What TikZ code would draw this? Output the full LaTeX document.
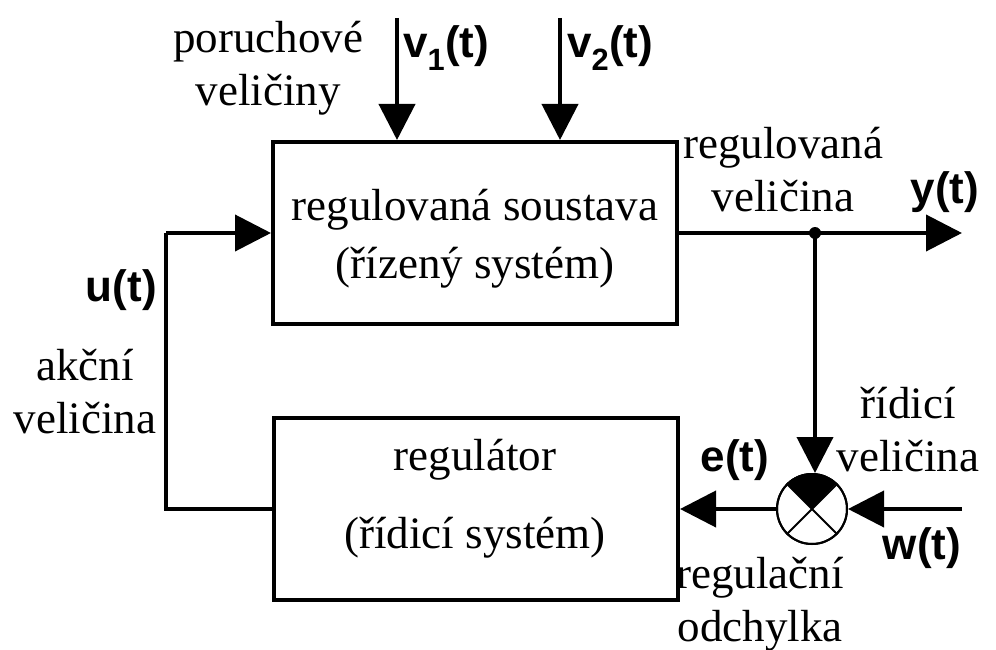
\documentclass[tikz,border=0pt]{standalone}
\usepackage{fontspec}
\setmainfont{Liberation Serif}
\newfontfamily\lbsans{Liberation Sans}
\usetikzlibrary{arrows.meta}
\begin{document}
\begin{tikzpicture}[x=1pt,y=-1pt,
  blk/.style={draw,line width=4pt,minimum width=404pt,minimum height=182pt,inner sep=0pt},
  ser/.style={font=\fontsize{45}{53}\selectfont,align=center,inner sep=0pt},
  lab/.style={font=\lbsans\bfseries\fontsize{44}{50}\selectfont,inner sep=0pt},
  wire/.style={line width=4pt},
  arr/.style={line width=4pt,-{Triangle[length=36pt,width=36pt]}}]
\useasboundingbox (0,0) rectangle (996,650);
\node[blk] (plant) at (475,233) {};
\node[blk] (ctrl) at (476,509) {};
\node[ser] at (475,210) {regulovaná soustava};
\node[ser] at (475,268) {(řízený systém)};
\node[ser] at (475,460) {regulátor};
\node[ser] at (475,538) {(řídicí systém)};
% disturbances
\coordinate (v1s) at (397,18);
\coordinate (v2s) at (560,18);
\draw[arr] (v1s) -- (v1s |- plant.north);
\draw[arr] (v2s) -- (v2s |- plant.north);
\node[lab,anchor=west] at (403,48) {v\textsubscript{1}(t)};
\node[lab,anchor=west] at (567,48) {v\textsubscript{2}(t)};
\node[ser] at (268,68) {poruchové\\veličiny};
% output
\coordinate (yend) at (962,233);
\coordinate (dot) at (815,233);
\draw[arr] (plant.east |- yend) -- (yend);
\fill (dot) circle (6pt);
\node[ser] at (783,170) {regulovaná\\veličina};
\node[lab] at (945,192) {y(t)};
% summing junction
\node[circle,draw,line width=2pt,minimum size=70pt,inner sep=0pt] (sum) at (812,509) {};
\fill (sum.center) -- (sum.north west) arc[start angle=135,end angle=45,radius=35pt] -- cycle;
\draw[line width=2pt] (sum.north west) -- (sum.south east) (sum.north east) -- (sum.south west);
\node[circle,draw,line width=2pt,minimum size=70pt,inner sep=0pt] at (812,509) {};
\draw[arr] (dot) -- (dot |- sum.north);
\coordinate (wstart) at (962,509);
\draw[arr] (wstart) -- (sum.east);
\draw[arr] (sum.west) -- (ctrl.east |- sum.west);
\node[ser] at (908,430) {řídicí\\veličina};
\node[lab] at (922,548) {w(t)};
\node[lab] at (735,460) {e(t)};
\node[ser] at (760,604) {regulační\\odchylka};
% feedback
\coordinate (fl) at (166,509);
\coordinate (fu) at (166,233);
\draw[wire] (ctrl.west) -- (fl) -- (fu);
\draw[arr] (fu) -- (plant.west);
\node[lab,anchor=east] at (157,290) {u(t)};
\node[ser] at (85,392) {akční\\veličina};
\end{tikzpicture}
\end{document}
